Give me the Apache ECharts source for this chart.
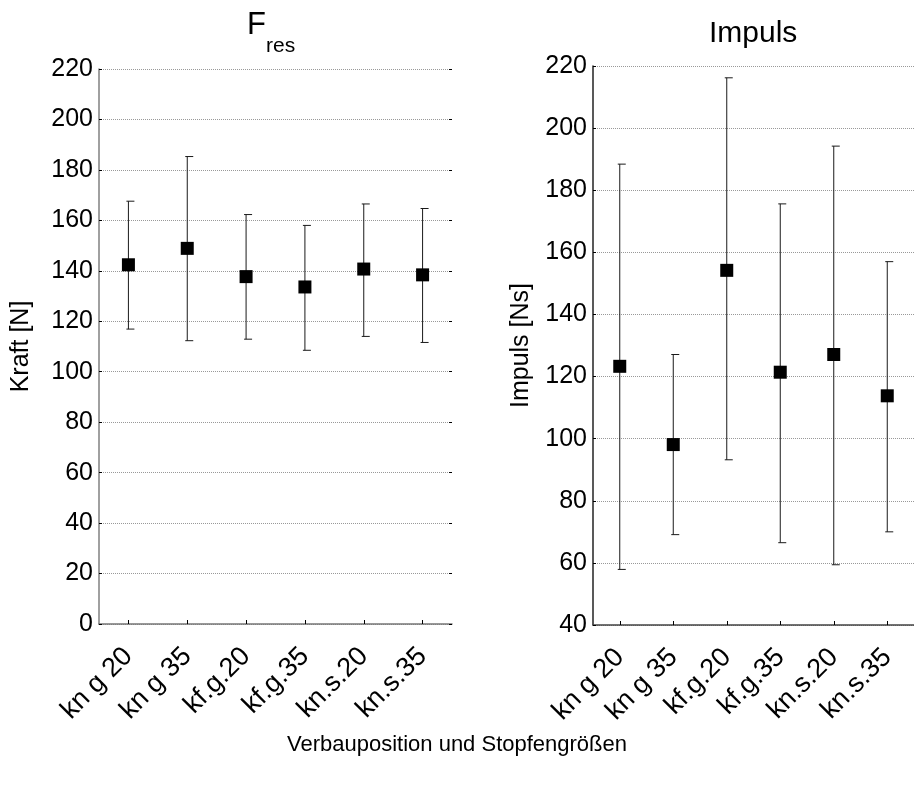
<!DOCTYPE html>
<html>
<head>
<meta charset="utf-8">
<script src="https://cdn.jsdelivr.net/npm/echarts@6/dist/echarts.min.js"></script>
<style>
  html, body { margin: 0; padding: 0; background: #fff; }
  #chart { width: 914px; height: 786px; }
</style>
</head>
<body>
<div id="chart"></div>
<script>
// Kategorien (Verbauposition / Stopfengröße)
const categories = ['kn g 20', 'kn g 35', 'kf.g.20', 'kf.g.35', 'kn.s.20', 'kn.s.35']

// F_res: Mittelwert und Fehlerbalken
const kraftMean = [142.4, 148.9, 137.7, 133.6, 140.7, 138.4]
const kraftUpper = [167.6, 185.3, 162.3, 158.0, 166.5, 164.7]
const kraftLower = [116.9, 112.3, 112.9, 108.5, 114.0, 111.6]

// Impuls: Mittelwert und Fehlerbalken
const impulsMean = [123.3, 98.1, 154.2, 121.4, 127.1, 113.8]
const impulsUpper = [188.4, 127.1, 216.2, 175.6, 194.2, 157.0]
const impulsLower = [57.9, 69.1, 93.2, 66.5, 59.4, 70.0]

// Achsenbereiche
const kraftAxis = { min: 0, max: 220, interval: 20 }
const impulsAxis = { min: 40, max: 220, interval: 20 }

const FONT = 'Liberation Sans, Arial, sans-serif'

const chart = echarts.init(document.getElementById('chart'))

function errorBarItem(params, api) {
  const x = api.value(0)
  const top = api.coord([x, api.value(2)])
  const bot = api.coord([x, api.value(1)])
  const style = { stroke: '#1a1a1a', lineWidth: 1 }
  return {
    type: 'group',
    children: [
      { type: 'line', shape: { x1: top[0], y1: top[1], x2: bot[0], y2: bot[1] }, style: style },
      { type: 'line', shape: { x1: top[0] - 2, y1: top[1], x2: top[0] + 6, y2: top[1] }, style: style },
      { type: 'line', shape: { x1: bot[0] - 2, y1: bot[1], x2: bot[0] + 6, y2: bot[1] }, style: style }
    ]
  }
}

function barData(lower, upper) {
  return categories.map((c, i) => [i, lower[i], upper[i]])
}

function xAxisCfg(gridIndex, lineColor) {
  return {
    type: 'category',
    gridIndex: gridIndex,
    data: categories,
    boundaryGap: true,
    axisLine: { show: true, lineStyle: { color: lineColor, width: 1.5 } },
    axisTick: { show: true, inside: true, length: 4, alignWithLabel: true, lineStyle: { color: '#000' } },
    axisLabel: { rotate: 45, margin: 28, color: '#000', fontSize: 27, fontFamily: FONT, interval: 0 },
    splitLine: { show: false }
  }
}

function yAxisCfg(gridIndex, range, name, nameGap, lineColor) {
  return {
    type: 'value',
    gridIndex: gridIndex,
    min: range.min,
    max: range.max,
    interval: range.interval,
    name: name,
    nameLocation: 'middle',
    nameGap: nameGap,
    nameTextStyle: { color: '#000', fontSize: 25, fontFamily: FONT },
    axisLine: { show: true, lineStyle: { color: lineColor, width: 1.5 } },
    axisTick: { show: true, inside: true, length: 3, lineStyle: { color: '#000' } },
    axisLabel: { color: '#000', fontSize: 25, fontFamily: FONT, margin: 6 },
    splitLine: { show: true, lineStyle: { color: '#999', type: 'dotted', width: 1 } }
  }
}

chart.setOption({
  animation: false,
  backgroundColor: '#fff',
  grid: [
    { left: 99, right: 462, top: 69, bottom: 162 },
    { left: 593, right: -5, top: 66, bottom: 161 }
  ],
  xAxis: [
    xAxisCfg(0, '#777'),
    xAxisCfg(1, '#444')
  ],
  yAxis: [
    yAxisCfg(0, kraftAxis, 'Kraft [N]', 65, '#808080'),
    yAxisCfg(1, impulsAxis, 'Impuls [Ns]', 59, '#222'),
    // kleine Ticks am rechten Rand des linken Diagramms
    {
      type: 'value', gridIndex: 0, position: 'right',
      min: kraftAxis.min, max: kraftAxis.max, interval: kraftAxis.interval,
      axisLine: { show: false },
      axisTick: { show: true, inside: true, length: 3, lineStyle: { color: '#000' } },
      axisLabel: { show: false },
      splitLine: { show: false }
    }
  ],
  graphic: [
    { type: 'text', left: 247, top: 10, style: { text: 'F', fontSize: 31, fontFamily: FONT, fill: '#000' } },
    { type: 'text', left: 266, top: 36, style: { text: 'res', fontSize: 21, fontFamily: FONT, fill: '#000' } },
    { type: 'text', left: 709, top: 19, style: { text: 'Impuls', fontSize: 30, fontFamily: FONT, fill: '#000' } },
    { type: 'text', left: 'center', top: 734, style: { text: 'Verbauposition und Stopfengrößen', fontSize: 22, fontFamily: FONT, fill: '#000' } }
  ],
  series: [
    {
      type: 'custom',
      xAxisIndex: 0, yAxisIndex: 0,
      renderItem: errorBarItem,
      encode: { x: 0, y: [1, 2] },
      data: barData(kraftLower, kraftUpper),
      z: 2
    },
    {
      type: 'scatter',
      xAxisIndex: 0, yAxisIndex: 0,
      symbol: 'rect', symbolSize: 13,
      itemStyle: { color: '#000', opacity: 1 },
      data: kraftMean,
      z: 3
    },
    {
      type: 'custom',
      xAxisIndex: 1, yAxisIndex: 1,
      renderItem: errorBarItem,
      encode: { x: 0, y: [1, 2] },
      data: barData(impulsLower, impulsUpper),
      z: 2
    },
    {
      type: 'scatter',
      xAxisIndex: 1, yAxisIndex: 1,
      symbol: 'rect', symbolSize: 13,
      itemStyle: { color: '#000', opacity: 1 },
      data: impulsMean,
      z: 3
    }
  ]
})
</script>
</body>
</html>
